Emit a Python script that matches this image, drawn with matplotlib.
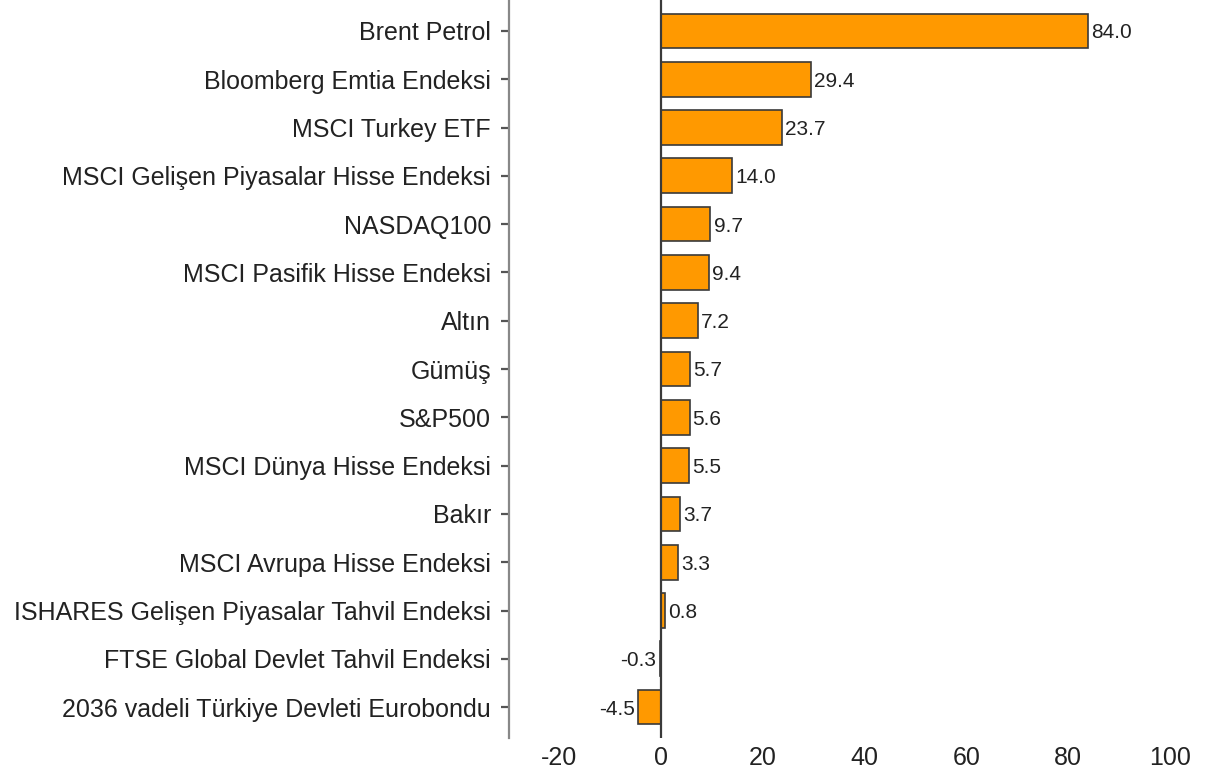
import matplotlib
matplotlib.use("Agg")
import matplotlib.pyplot as plt

plt.rcParams["font.family"] = ["Liberation Sans", "DejaVu Sans"]
plt.rcParams["axes.unicode_minus"] = False

categories = [
    "Brent Petrol",
    "Bloomberg Emtia Endeksi",
    "MSCI Turkey ETF",
    "MSCI Gelişen Piyasalar Hisse Endeksi",
    "NASDAQ100",
    "MSCI Pasifik Hisse Endeksi",
    "Altın",
    "Gümüş",
    "S&P500",
    "MSCI Dünya Hisse Endeksi",
    "Bakır",
    "MSCI Avrupa Hisse Endeksi",
    "ISHARES Gelişen Piyasalar Tahvil Endeksi",
    "FTSE Global Devlet Tahvil Endeksi",
    "2036 vadeli Türkiye Devleti Eurobondu",
]
values = [84.0, 29.4, 23.7, 14.0, 9.7, 9.4, 7.2, 5.7, 5.6, 5.5, 3.7, 3.3, 0.8, -0.3, -4.5]
x_ticks = [-20, 0, 20, 40, 60, 80, 100]

fig = plt.figure(figsize=(12.07, 7.78), dpi=100)
ax = fig.add_axes([0.4217, 0.0514, 0.5783, 0.9486])

pos = list(range(len(categories)))
ax.barh(pos, values, height=0.72, color="#FF9900", edgecolor="#3a3a3a", linewidth=1.2, zorder=2)
ax.axvline(0, color="#3a3a3a", linewidth=1.6, zorder=3)

for y, v in zip(pos, values):
    if v >= 0:
        ax.text(v + 0.6, y + 0.04, f"{v:.1f}", ha="left", va="center", fontsize=15, color="#222222")
    else:
        ax.text(v - 0.6, y + 0.04, f"{v:.1f}", ha="right", va="center", fontsize=15, color="#222222")

ax.set_xlim(-29.9, 107.3)
ax.set_ylim(len(categories) - 0.36, -0.64)
ax.set_yticks(pos)
ax.set_yticklabels(categories)
ax.set_xticks(x_ticks)

for side in ["top", "right", "bottom"]:
    ax.spines[side].set_visible(False)
ax.spines["left"].set_color("#888888")
ax.spines["left"].set_linewidth(1.6)

ax.tick_params(axis="y", length=6, width=1.6, color="#555555", labelsize=18, labelcolor="#222222", pad=7)
ax.tick_params(axis="x", length=0, labelsize=18, labelcolor="#222222", pad=6)

fig.savefig("out.png", dpi=100)
